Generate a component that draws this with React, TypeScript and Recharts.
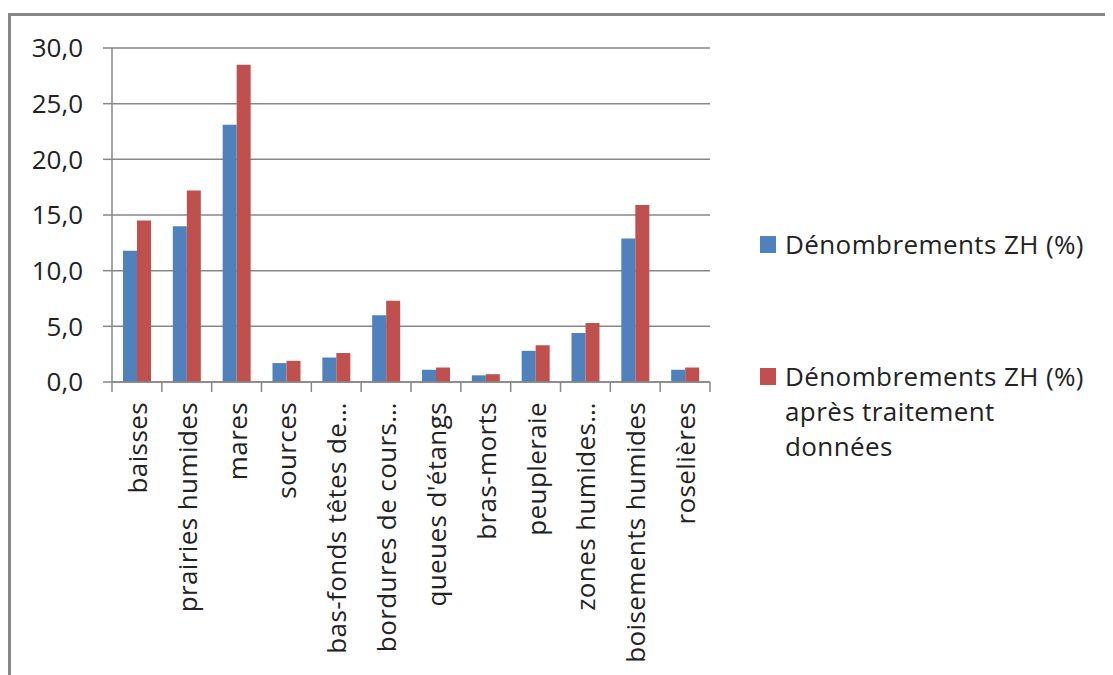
import { BarChart, Bar, XAxis, YAxis, CartesianGrid, Legend } from 'recharts'

const categories = [
  'baisses',
  'prairies humides',
  'mares',
  'sources',
  'bas-fonds têtes de…',
  'bordures de cours…',
  "queues d'étangs",
  'bras-morts',
  'peupleraie',
  'zones humides…',
  'boisements humides',
  'roselières',
]

const denombrements = [11.8, 14.0, 23.1, 1.7, 2.2, 6.0, 1.1, 0.6, 2.8, 4.4, 12.9, 1.1]
const apresTraitement = [14.5, 17.2, 28.5, 1.9, 2.6, 7.3, 1.3, 0.7, 3.3, 5.3, 15.9, 1.3]

const yTicks = [0, 5, 10, 15, 20, 25, 30]

const seriesNames = ['Dénombrements ZH (%)', 'Dénombrements ZH (%) après traitement données']
const legendLines = [['Dénombrements ZH (%)'], ['Dénombrements ZH (%)', 'après traitement', 'données']]

const data = categories.map((name, i) => ({
  name,
  a: denombrements[i],
  b: apresTraitement[i],
}))

const FONT = '"Open Sans", sans-serif'
const AXIS = '#878787'

function CategoryTick(props: any) {
  const { x, y, payload, index, width } = props
  const band = width / categories.length
  return (
    <g transform={`translate(${x},${y})`}>
      <line x1={-band / 2} x2={-band / 2} y1={0} y2={10} stroke={AXIS} strokeWidth={1.5} />
      {index === categories.length - 1 && (
        <line x1={band / 2} x2={band / 2} y1={0} y2={10} stroke={AXIS} strokeWidth={1.5} />
      )}
      <text
        transform="rotate(-90)"
        x={-20}
        y={0}
        textAnchor="end"
        dominantBaseline="central"
        fontSize={26}
        letterSpacing={0.4}
        fontFamily={FONT}
        fill="#222"
      >
        {payload.value}
      </text>
    </g>
  )
}

function LegendBox({ payload }: any) {
  const colors = ['#4F81BD', '#C0504D']
  return (
    <div style={{ fontFamily: FONT, fontSize: 26, color: '#222', letterSpacing: 0.4 }}>
      {legendLines.map((lines, i) => (
        <div key={i} style={{ display: 'flex', alignItems: 'flex-start', marginBottom: i === 0 ? 97 : 0 }}>
          <span
            style={{
              width: 16,
              height: 17,
              background: payload?.[i]?.color ?? colors[i],
              marginTop: 9,
              marginRight: 9,
              flexShrink: 0,
            }}
          />
          <div style={{ lineHeight: '35px' }}>
            {lines.map((l) => (
              <div key={l}>{l}</div>
            ))}
          </div>
        </div>
      ))}
    </div>
  )
}

export default function App() {
  return (
    <div style={{ paddingTop: 5 }}>
      <div
        style={{
          width: 1105,
          height: 662,
          borderTop: `3px solid ${AXIS}`,
          borderLeft: `3px solid ${AXIS}`,
          background: '#fff',
        }}
      >
        <BarChart
          width={1102}
          height={659}
          data={data}
          margin={{ top: 32, right: 403, left: 0, bottom: 13 }}
          barSize={14}
          barGap={0}
        >
          <CartesianGrid vertical={false} stroke={AXIS} strokeWidth={1.5} />
          <XAxis
            dataKey="name"
            interval={0}
            height={280}
            tickLine={false}
            tickSize={0}
            tickMargin={0}
            axisLine={{ stroke: AXIS, strokeWidth: 1.5 }}
            tick={<CategoryTick />}
          />
          <YAxis
            width={101}
            domain={[0, 30]}
            ticks={yTicks}
            interval={0}
            tickSize={9}
            tickMargin={20}
            tickFormatter={(v: number) => v.toFixed(1).replace('.', ',')}
            tick={{ fontSize: 26, fontFamily: FONT, fill: '#222' }}
            axisLine={{ stroke: AXIS, strokeWidth: 1.5 }}
            tickLine={{ stroke: AXIS, strokeWidth: 1.5 }}
          />
          <Legend
            layout="vertical"
            align="center"
            verticalAlign="middle"
            content={<LegendBox />}
            wrapperStyle={{ left: 749, top: 211, width: 350 }}
          />
          <Bar dataKey="a" name={seriesNames[0]} fill="#4F81BD" isAnimationActive={false} />
          <Bar dataKey="b" name={seriesNames[1]} fill="#C0504D" isAnimationActive={false} />
        </BarChart>
      </div>
    </div>
  )
}
